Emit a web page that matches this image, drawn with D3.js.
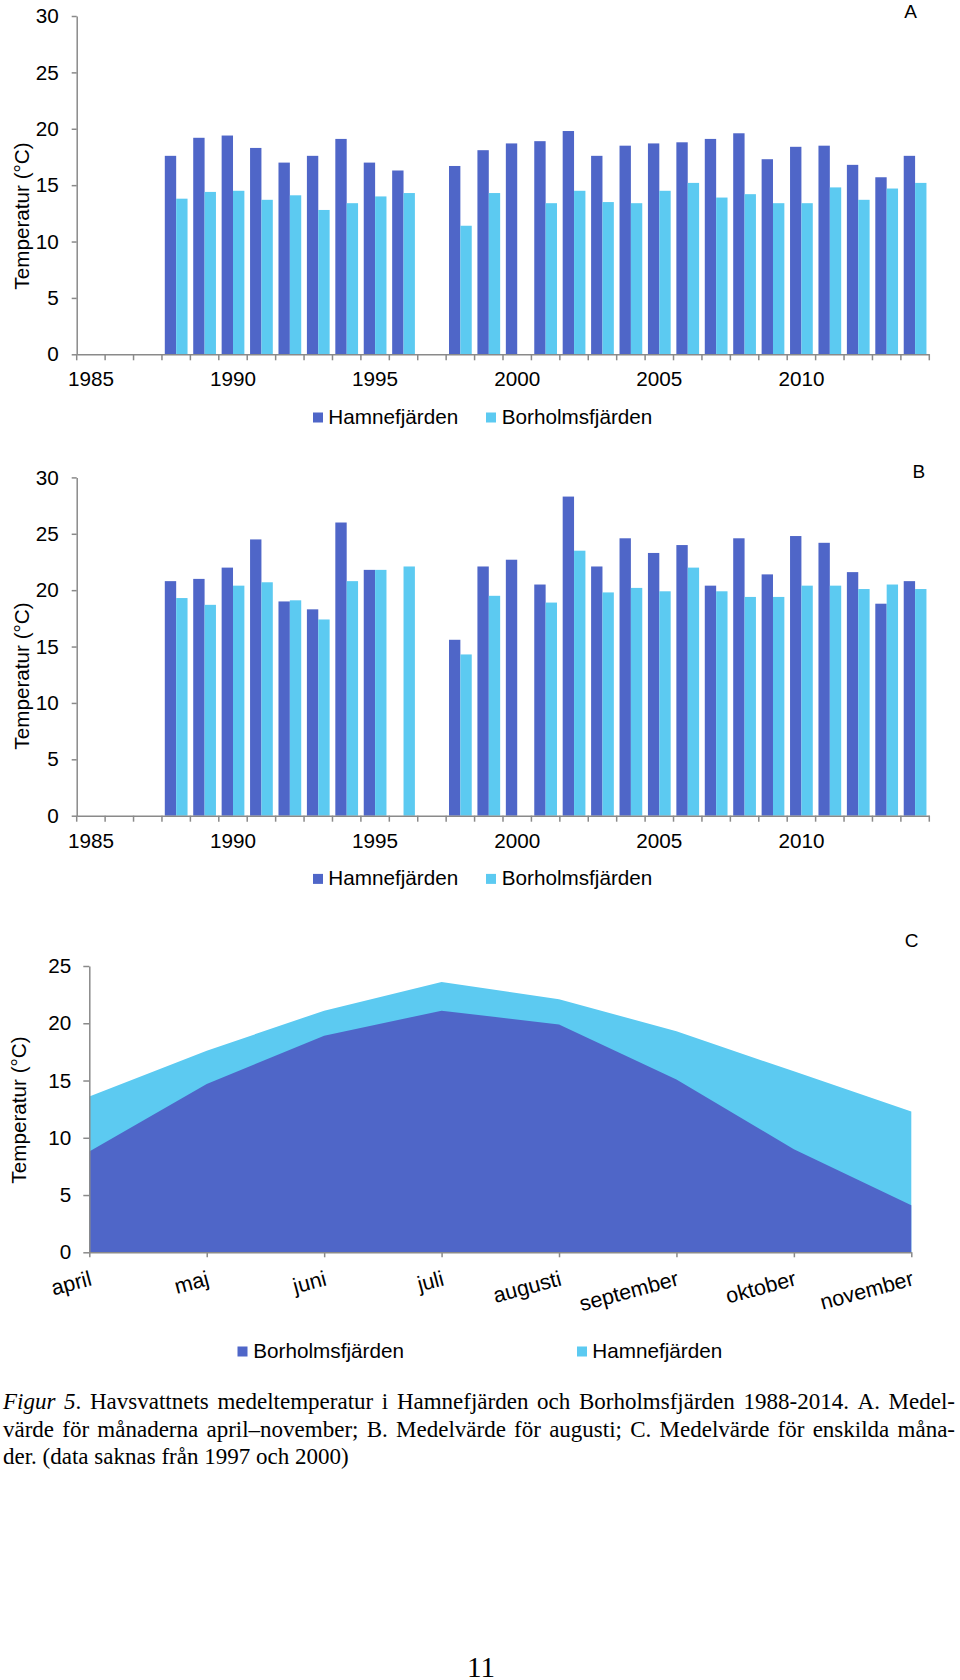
<!DOCTYPE html>
<html><head><meta charset="utf-8">
<script src="https://cdn.jsdelivr.net/npm/d3@7"></script>
<style>body{margin:0;background:#fff} svg{display:block}</style>
</head><body>
<svg id="c" width="960" height="1680"></svg>
<script>
// ---------- data ----------
const years = [1985,1986,1987,1988,1989,1990,1991,1992,1993,1994,1995,1996,1997,1998,1999,2000,2001,2002,2003,2004,2005,2006,2007,2008,2009,2010,2011,2012,2013,2014];
const yearTickLabels = [1985,1990,1995,2000,2005,2010];
const hamnA = [null,null,null,17.6,19.2,19.4,18.3,17.0,17.6,19.1,17.0,16.3,null,16.7,18.1,18.7,18.9,19.8,17.6,18.5,18.7,18.8,19.1,19.6,17.3,18.4,18.5,16.8,15.7,17.6];
const borA  = [null,null,null,13.8,14.4,14.5,13.7,14.1,12.8,13.4,14.0,14.3,null,11.4,14.3,null,13.4,14.5,13.5,13.4,14.5,15.2,13.9,14.2,13.4,13.4,14.8,13.7,14.7,15.2];
const hamnB = [null,null,null,20.8,21.0,22.0,24.5,19.0,18.3,26.0,21.8,null,null,15.6,22.1,22.7,20.5,28.3,22.1,24.6,23.3,24.0,20.4,24.6,21.4,24.8,24.2,21.6,18.8,20.8];
const borB  = [null,null,null,19.3,18.7,20.4,20.7,19.1,17.4,20.8,21.8,22.1,null,14.3,19.5,null,18.9,23.5,19.8,20.2,19.9,22.0,19.9,19.4,19.4,20.4,20.4,20.1,20.5,20.1];
const barTicks = [0,5,10,15,20,25,30];

const months = ["april","maj","juni","juli","augusti","september","oktober","november"];
const hamnC = [13.6,17.6,21.1,23.6,22.1,19.3,15.8,12.3];
const borC  = [8.8,14.7,18.9,21.1,19.9,15.1,9.0,4.1];
const areaTicks = [0,5,10,15,20,25];

const seriesNames = ["Hamnefjärden","Borholmsfjärden"];
const captionLines = [
  "Figur 5. Havsvattnets medeltemperatur i Hamnefjärden och Borholmsfjärden 1988-2014. A. Medel-",
  "värde för månaderna april–november; B. Medelvärde för augusti; C. Medelvärde för enskilda måna-",
  "der. (data saknas från 1997 och 2000)"
];
const pageNumber = "11";

// ---------- style ----------
const DARK = "#4F66C8", LIGHT = "#5CCAF1", AXIS = "#8a8a8a";
const SANS = "'Liberation Sans', Arial, sans-serif";
const SERIF = "'Liberation Serif', 'Times New Roman', serif";
const FS = 20.7;

const svg = d3.select("#c");

function styleAxis(g){
  g.selectAll(".domain").attr("stroke", AXIS).attr("stroke-width", 1.5);
  g.selectAll(".tick line").attr("stroke", AXIS).attr("stroke-width", 1.5);
  g.selectAll("text").attr("fill", "#000").style("font-family", SANS).style("font-size", FS + "px");
}

function legend(g, items, baseline){
  items.forEach(it => {
    g.append("rect").attr("x", it.sx).attr("y", baseline - 11.5).attr("width", 10).attr("height", 10).attr("fill", it.color);
    g.append("text").attr("x", it.tx).attr("y", baseline).text(it.label)
      .style("font-family", SANS).style("font-size", FS + "px").attr("fill", "#000");
  });
}

function barPanel(opts){
  const g = svg.append("g");
  const x = d3.scaleBand().domain(years).range([76.7, 929.3]).paddingInner(0).paddingOuter(0);
  const xs = d3.scaleBand().domain([0,1]).range([0, x.bandwidth()]).paddingInner(0).paddingOuter(0.25);
  const y = d3.scaleLinear().domain([0,30]).range([opts.y0, opts.y0 - 338.3]);

  const series = [opts.h, opts.b];
  const colors = [DARK, LIGHT];
  series.forEach((vals, si) => {
    g.append("g").selectAll("rect")
      .data(years.map((yr,i)=>({yr, v: vals[i]})).filter(d => d.v != null))
      .join("rect")
      .attr("x", d => x(d.yr) + xs(si))
      .attr("width", xs.bandwidth())
      .attr("y", d => y(d.v))
      .attr("height", d => y(0) - y(d.v))
      .attr("fill", colors[si]);
  });

  const ya = g.append("g").attr("transform", `translate(${x.range()[0]},0)`)
    .call(d3.axisLeft(y).tickValues(barTicks).tickSize(5).tickPadding(13).tickSizeOuter(0));
  styleAxis(ya);

  const xa = g.append("g").attr("transform", `translate(0,${y(0)})`)
    .call(d3.axisBottom(x).tickValues(yearTickLabels).tickSize(0).tickPadding(24).tickSizeOuter(0));
  styleAxis(xa);
  xa.selectAll(".tick text").attr("dy", "0.71em").attr("y", 17.5);
  const bounds = years.map(yr => x(yr)).concat([x.range()[1]]);
  g.append("g").selectAll("line").data(bounds).join("line")
    .attr("x1", d => d).attr("x2", d => d)
    .attr("y1", y(0)).attr("y2", y(0) + 6)
    .attr("stroke", AXIS).attr("stroke-width", 1.5);

  g.append("text")
    .attr("transform", `translate(29,${opts.labelY}) rotate(-90)`)
    .attr("text-anchor", "middle")
    .style("font-family", SANS).style("font-size", FS + "px")
    .text("Temperatur (°C)");

  g.append("text").attr("x", opts.letterX).attr("y", opts.letterY).attr("text-anchor", "middle")
    .style("font-family", SANS).style("font-size", "19px").text(opts.letter);

  legend(g, [
    {sx: 313, tx: 328.3, color: DARK, label: seriesNames[0]},
    {sx: 486, tx: 501.7, color: LIGHT, label: seriesNames[1]}
  ], opts.legendY);
}

barPanel({h: hamnA, b: borA, y0: 354.3, labelY: 216, letter: "A", letterX: 910.7, letterY: 18.3, legendY: 424});
barPanel({h: hamnB, b: borB, y0: 815.7, labelY: 676, letter: "B", letterX: 918.8, letterY: 478.3, legendY: 885.4});

// ---------- panel C ----------
(function(){
  const g = svg.append("g");
  const x = d3.scalePoint().domain(months).range([89.3, 911.3]).padding(0);
  const y = d3.scaleLinear().domain([0,25]).range([1252.3, 966]);

  const area = vals => d3.area()
    .x((d,i) => x(months[i])).y0(y(0)).y1(d => y(d))(vals);
  g.append("path").attr("d", area(hamnC)).attr("fill", LIGHT);
  g.append("path").attr("d", area(borC)).attr("fill", DARK);

  const ya = g.append("g").attr("transform", `translate(${x.range()[0]},0)`)
    .call(d3.axisLeft(y).tickValues(areaTicks).tickSize(6).tickPadding(12).tickSizeOuter(0));
  styleAxis(ya);

  const xa = g.append("g").attr("transform", `translate(0,${y(0)})`)
    .call(d3.axisBottom(x).tickSize(5).tickSizeOuter(0).tickFormat(""));
  styleAxis(xa);

  g.append("g").selectAll("text").data(months).join("text")
    .attr("transform", d => `translate(${x(d) + 3.5},1285) rotate(-15)`)
    .attr("text-anchor", "end")
    .style("font-family", SANS).style("font-size", "21.5px")
    .text(d => d);

  g.append("text")
    .attr("transform", `translate(26,1110) rotate(-90)`)
    .attr("text-anchor", "middle")
    .style("font-family", SANS).style("font-size", FS + "px")
    .text("Temperatur (°C)");

  g.append("text").attr("x", 911.7).attr("y", 946.7).attr("text-anchor", "middle")
    .style("font-family", SANS).style("font-size", "19px").text("C");

  legend(g, [
    {sx: 237.5, tx: 253.3, color: DARK, label: seriesNames[1]},
    {sx: 577, tx: 592.3, color: LIGHT, label: seriesNames[0]}
  ], 1358);
})();

// ---------- caption (justified) ----------
(function(){
  const left = 3, right = 955, fsz = 23;
  const W = right - left;
  const g = svg.append("g").attr("transform", `translate(${left},0)`);
  const baselines = [1409, 1436.5, 1464];
  const measure = g.append("text").style("font-family", SERIF).style("font-size", fsz + "px");
  function segs(word, li, wi){
    if (li === 0 && wi === 0) return [[word, true]];
    if (li === 0 && wi === 1) return [["5", true], [".", false]];
    return [[word, false]];
  }
  function width(parts){
    measure.selectAll("tspan").remove();
    parts.forEach(p => measure.append("tspan").style("font-style", p[1] ? "italic" : "normal").text(p[0]));
    return measure.node().getComputedTextLength();
  }
  captionLines.forEach((line, li) => {
    const words = line.split(" ");
    const parts = words.map((w, wi) => segs(w, li, wi));
    const widths = parts.map(width);
    const total = d3.sum(widths);
    const justify = li < captionLines.length - 1;
    const spaceW = fsz * 0.25;
    const minGap = fsz * 0.16;
    let sc = 1, gap = spaceW;
    if (justify) {
      gap = (W - total) / (words.length - 1);
      if (gap < minGap) { gap = minGap; sc = W / (total + minGap * (words.length - 1)); }
    }
    const t = g.append("text").attr("y", baselines[li])
      .attr("transform", `scale(${sc},1)`)
      .style("font-family", SERIF).style("font-size", fsz + "px").attr("fill", "#000");
    let cx = 0;
    parts.forEach((p, wi) => {
      p.forEach((s, si) => {
        const ts = t.append("tspan").style("font-style", s[1] ? "italic" : "normal").text(s[0]);
        if (si === 0) ts.attr("x", cx);
      });
      cx += widths[wi] + gap;
    });
  });
  measure.remove();

  svg.append("text").attr("x", 481).attr("y", 1677).attr("text-anchor", "middle")
    .style("font-family", SERIF).style("font-size", "29px").text(pageNumber);
})();
</script>
</body></html>
